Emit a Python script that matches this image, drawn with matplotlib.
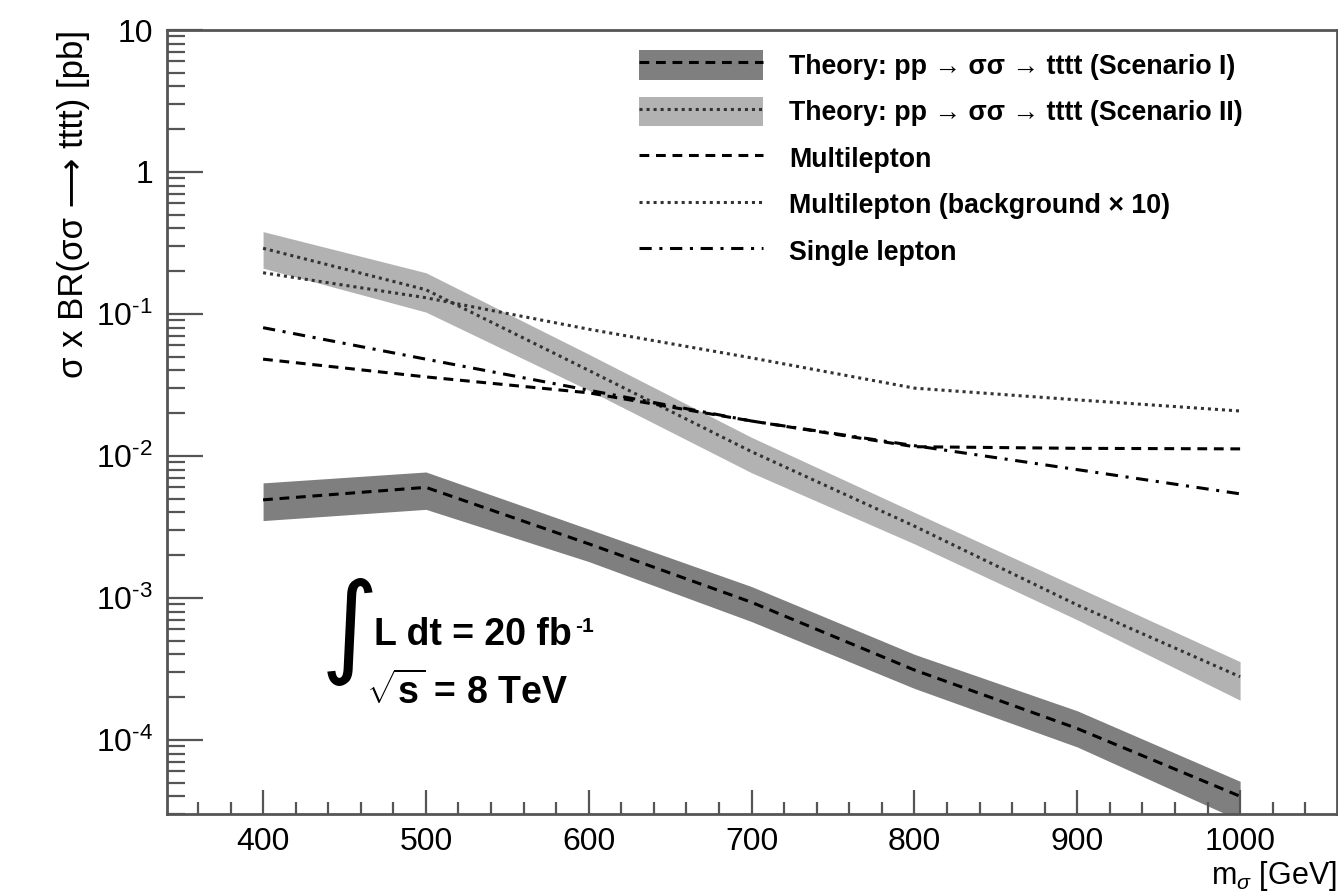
import matplotlib
matplotlib.use("Agg")
import matplotlib.pyplot as plt
import numpy as np
from matplotlib.patches import Patch
from matplotlib.lines import Line2D
from matplotlib.ticker import FixedLocator, LogLocator, NullFormatter, FixedFormatter, MultipleLocator

plt.rcParams['font.family'] = ['Liberation Sans', 'DejaVu Sans']
plt.rcParams['mathtext.fontset'] = 'custom'
plt.rcParams['mathtext.rm'] = 'Liberation Sans'
plt.rcParams['mathtext.it'] = 'Liberation Sans:italic'
plt.rcParams['mathtext.bf'] = 'Liberation Sans:bold'

# ---- data ----
mass = [400, 500, 600, 700, 800, 900, 1000]

scen1 = [4.9e-3, 6.0e-3, 2.4e-3, 9.3e-4, 3.1e-4, 1.2e-4, 4.0e-5]
scen1_up = [6.45e-3, 7.7e-3, 3.05e-3, 1.2e-3, 4.0e-4, 1.6e-4, 5.1e-5]
scen1_dn = [3.5e-3, 4.2e-3, 1.8e-3, 6.8e-4, 2.3e-4, 8.9e-5, 2.7e-5]

scen2 = [0.29, 0.148, 0.040, 0.0107, 3.2e-3, 8.9e-4, 2.78e-4]
scen2_up = [0.38, 0.195, 0.052, 0.0135, 4.0e-3, 1.19e-3, 3.55e-4]
scen2_dn = [0.21, 0.103, 0.029, 0.0076, 2.4e-3, 7.0e-4, 1.9e-4]

multilep = [0.048, 0.036, 0.0278, 0.0176, 0.0116, 0.0113, 0.0112]
multilep_bg10 = [0.195, 0.13, 0.078, 0.049, 0.030, 0.0248, 0.0207]
singlelep = [0.080, 0.048, 0.029, 0.0176, 0.0118, 0.0080, 0.0054]

labels = ["Theory: pp → σσ → tttt (Scenario I)",
          "Theory: pp → σσ → tttt (Scenario II)",
          "Multilepton",
          "Multilepton (background × 10)",
          "Single lepton"]

ytick_vals = [1e-4, 1e-3, 1e-2, 1e-1, 1, 10]
ytick_labels = [r"$10^{\text{-}4}$", r"$10^{\text{-}3}$", r"$10^{\text{-}2}$", r"$10^{\text{-}1}$", "1", "10"]
xtick_vals = [400, 500, 600, 700, 800, 900, 1000]

# ---- figure ----
fig = plt.figure(figsize=(13.38, 8.92), dpi=100)
ax = fig.add_axes([167/1338, 1 - 814/892, 1170/1338, 784/892])

dark = '#7f7f7f'
light = '#b2b2b2'
lw = 2.2

ax.fill_between(mass, scen1_dn, scen1_up, color=dark, lw=0, zorder=1)
ax.fill_between(mass, scen2_dn, scen2_up, color=light, lw=0, zorder=1)

dash = (0, (3.2, 2.2))
dot = (0, (1.0, 1.3))
dashdot = (0, (4.0, 2.5, 1.0, 2.5))

ax.plot(mass, scen1, color='black', lw=lw, linestyle=dash, zorder=3)
ax.plot(mass, scen2, color='#333333', lw=lw, linestyle=dot, zorder=3)
ax.plot(mass, multilep, color='black', lw=lw, linestyle=dash, zorder=3)
ax.plot(mass, multilep_bg10, color='#333333', lw=lw, linestyle=dot, zorder=3)
ax.plot(mass, singlelep, color='black', lw=lw, linestyle=dashdot, zorder=3)

ax.set_yscale('log')
ax.set_xlim(341, 1059.5)
ax.set_ylim(3.0e-5, 10)

ax.yaxis.set_major_locator(FixedLocator(ytick_vals))
ax.yaxis.set_major_formatter(FixedFormatter(ytick_labels))
ax.yaxis.set_minor_locator(LogLocator(base=10, subs=np.arange(2, 10)))
ax.yaxis.set_minor_formatter(NullFormatter())
ax.xaxis.set_major_locator(FixedLocator(xtick_vals))
ax.xaxis.set_minor_locator(MultipleLocator(20))

ax.tick_params(axis='both', which='both', direction='in', top=False, right=False,
               color='#555555', width=1.6)
ax.tick_params(axis='y', which='major', length=26, pad=10, labelsize=23)
ax.tick_params(axis='y', which='minor', length=13)
ax.tick_params(axis='x', which='major', length=17, pad=9, labelsize=23)
ax.tick_params(axis='x', which='minor', length=9)

for s in ax.spines.values():
    s.set_color('#555555')
    s.set_linewidth(2.0)

ax.set_ylabel("σ x BR(σσ ⟶ tttt) [pb]", fontsize=25, loc='top')
ax.yaxis.set_label_coords(-0.066, 1.0)
ax.set_xlabel(r"m$_{\sigma}$ [GeV]", fontsize=22, loc='right')
ax.xaxis.set_label_coords(1.0, -0.058)

# legend
handles = [
    (Patch(facecolor=dark, edgecolor='none'), Line2D([], [], color='black', lw=lw, linestyle=dash)),
    (Patch(facecolor=light, edgecolor='none'), Line2D([], [], color='#333333', lw=lw, linestyle=dot)),
    Line2D([], [], color='black', lw=lw, linestyle=dash),
    Line2D([], [], color='#333333', lw=lw, linestyle=dot),
    Line2D([], [], color='black', lw=lw, linestyle=dashdot),
]
leg = ax.legend(handles, labels, loc='upper left', bbox_to_anchor=(0.403, 0.974),
                frameon=False, prop={'weight': 'bold', 'size': 19.3},
                handlelength=4.66, handleheight=1.3, labelspacing=0.63,
                handletextpad=0.95, borderpad=0.0, borderaxespad=0.0)

# annotation
ax.text(0.156, 0.232, "∫", transform=ax.transAxes, fontsize=80, family='DejaVu Sans',
        ha='center', va='center')
t1 = ax.text(0.177, 0.228, "L dt = 20 fb", transform=ax.transAxes,
             fontsize=27, fontweight='bold', ha='left', va='center')
fig.canvas.draw()
bb = t1.get_window_extent()
ax.text(bb.x1 + 3, bb.y1, "-1", transform=None, fontsize=15, fontweight='bold',
        ha='left', va='top')
ax.text(0.170, 0.156, r"$\sqrt{\mathbf{s}}$ = 8 TeV", transform=ax.transAxes,
        fontsize=27, fontweight='bold', ha='left', va='center')

fig.savefig("out.png", dpi=100)
